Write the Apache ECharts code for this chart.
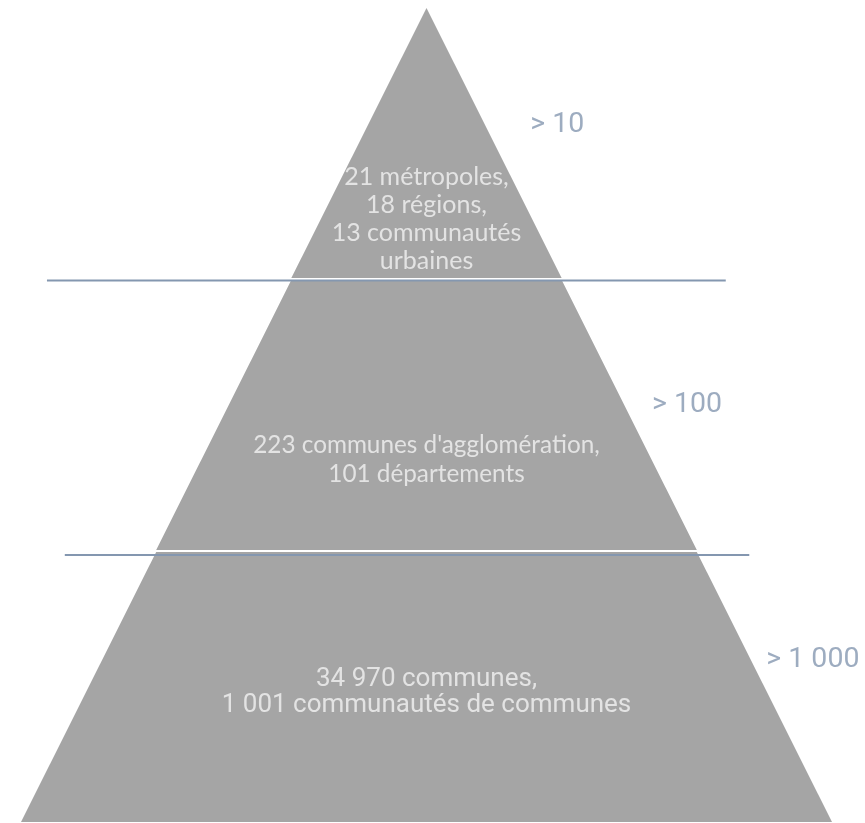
<!DOCTYPE html>
<html>
<head>
<meta charset="utf-8">
<script src="https://cdn.jsdelivr.net/npm/echarts@6/dist/echarts.min.js"></script>
<style>
  html, body { margin: 0; padding: 0; background: #fff; }
  #pyramid { width: 865px; height: 823px; }
</style>
</head>
<body>
<div id="pyramid"></div>
<script>
// niveaux, du bas vers le haut
var levelTexts = [
    '34 970 communes,\n1 001 communautés de communes',
    '223 communes d\'agglomération,\n101 départements',
    '21 métropoles,\n18 régions,\n13 communautés\nurbaines'
];
var levelValues = [3, 2, 1];          // largeur relative de chaque niveau
var thresholdLabels = ['> 1 000', '> 100', '> 10'];
var separatorLevels = [1, 2];         // limites entre niveaux

var myChart = echarts.init(document.getElementById('pyramid'));

// styles des textes par niveau (bas -> haut)
var textStyles = [
    { fontFamily: 'Roboto', fontSize: 26, lineHeight: 26, rise: 0.478 },
    { fontFamily: 'Lato', fontSize: 24.3, lineHeight: 29, rise: 0.334 },
    { fontFamily: 'Lato', fontSize: 25, lineHeight: 28, rise: 0.221 }
];
// position des seuils à droite : [x en fraction de largeur, y en niveau]
var thresholdPos = [[0.919, 0.597], [0.778, 1.537], [0.628, 2.569]];
var sepExtent = [[0.054, 0.898], [0.032, 0.869]];
var sepNudge = [-0.016, -0.004];

var funnelData = [];
var textData = [];
for (var i = 0; i < levelValues.length; i++) {
    funnelData.push({ name: levelTexts[i], value: levelValues[i] });
    textData.push({
        name: levelTexts[i],
        value: [0.5, i + textStyles[i].rise],
        label: {
            fontFamily: textStyles[i].fontFamily,
            fontSize: textStyles[i].fontSize,
            lineHeight: textStyles[i].lineHeight
        }
    });
}

var thresholdData = [];
for (var j = 0; j < thresholdLabels.length; j++) {
    thresholdData.push({ name: thresholdLabels[j], value: thresholdPos[j] });
}

var sepSeries = [];
for (var k = 0; k < separatorLevels.length; k++) {
    var lv = separatorLevels[k] + sepNudge[k];
    sepSeries.push({
        type: 'line',
        data: [[sepExtent[k][0], lv], [sepExtent[k][1], lv]],
        symbol: 'none',
        silent: true,
        z: 5,
        lineStyle: { color: '#8497b0', width: 2 }
    });
}

var option = {
    animation: false,
    grid: { left: 21, top: 8, width: 811, height: 814 },
    xAxis: { type: 'value', min: 0, max: 1, show: false },
    yAxis: { type: 'value', min: 0, max: 3, show: false },
    series: [
        {
            type: 'funnel',
            left: 21,
            top: 8,
            width: 811,
            height: 814,
            min: 0,
            max: 3,
            minSize: '0%',
            maxSize: '100%',
            sort: 'ascending',
            gap: 2,
            data: funnelData,
            itemStyle: { color: '#a5a5a5', borderWidth: 0 },
            label: { show: false },
            labelLine: { show: false },
            emphasis: { disabled: true }
        },
        {
            // textes à l'intérieur de la pyramide
            type: 'scatter',
            data: textData,
            symbolSize: 0,
            silent: true,
            z: 6,
            label: {
                show: true,
                position: 'inside',
                align: 'center',
                verticalAlign: 'middle',
                formatter: '{b}',
                color: '#f2f2f2'
            }
        },
        {
            type: 'scatter',
            data: thresholdData,
            symbolSize: 0,
            silent: true,
            label: {
                show: true,
                position: 'right',
                distance: 0,
                formatter: '{b}',
                color: '#8497b0',
                fontFamily: 'Roboto',
                fontSize: 28.5
            }
        }
    ].concat(sepSeries)
};

myChart.setOption(option);
window.addEventListener('resize', function () {
    myChart.resize();
});
</script>
</body>
</html>
